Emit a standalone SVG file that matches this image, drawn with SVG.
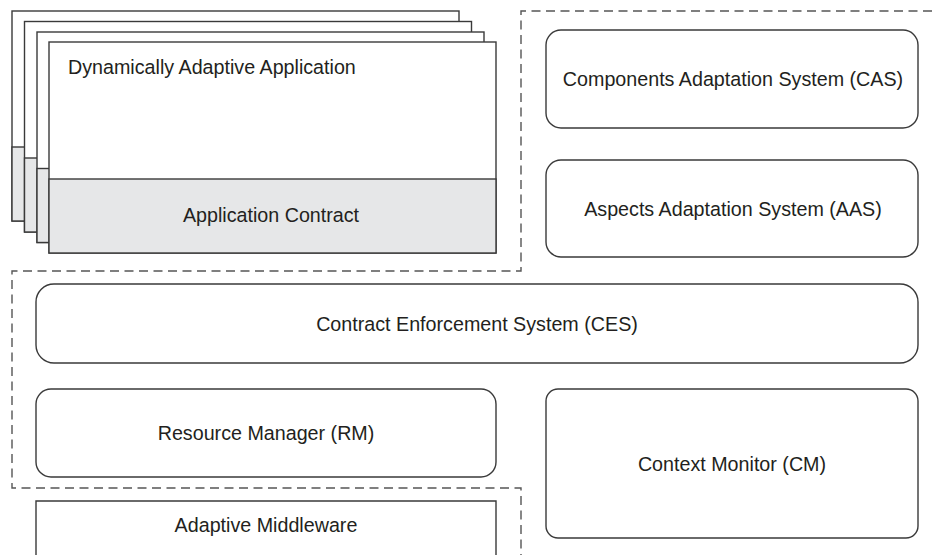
<svg xmlns="http://www.w3.org/2000/svg" width="932" height="555" viewBox="0 0 932 555">
<style>
  .box { fill: #ffffff; stroke: #3a3a3a; stroke-width: 1.4; }
  .gray { fill: #e6e7e8; stroke: #3a3a3a; stroke-width: 1.4; }
  .dash { fill: none; stroke: #555555; stroke-width: 1.4; stroke-dasharray: 9 5.5; }
  text { font-family: "Liberation Sans", Arial, sans-serif; font-size: 19.7px; fill: #231f20; }
  .c { text-anchor: middle; }
</style>
<rect width="932" height="555" fill="#ffffff"/>
<g id="app-stack">
  <g id="app-layer-1">
    <rect class="box" x="12" y="11" width="447" height="210"/>
    <rect class="gray" x="12" y="147" width="447" height="74"/>
  </g>
  <g id="app-layer-2">
    <rect class="box" x="24.5" y="21.5" width="447" height="210.5"/>
    <rect class="gray" x="24.5" y="158" width="447" height="74"/>
  </g>
  <g id="app-layer-3">
    <rect class="box" x="37" y="32" width="447" height="210.5"/>
    <rect class="gray" x="37" y="168.5" width="447" height="74"/>
  </g>
  <g id="app-front">
    <rect class="box" x="49" y="42" width="447" height="211"/>
    <rect class="gray" x="49" y="179" width="447" height="74"/>
    <text x="68" y="74">Dynamically Adaptive Application</text>
    <text class="c" x="271" y="222">Application Contract</text>
  </g>
</g>
<g id="connectors">
  <path class="dash" d="M932,11 H521 V271 H12 V488 H521 V555"/>
</g>
<g id="cas">
  <rect class="box" x="546" y="30" width="372" height="98" rx="15"/>
  <text class="c" x="733" y="86">Components Adaptation System (CAS)</text>
</g>
<g id="aas">
  <rect class="box" x="546" y="160" width="372" height="97" rx="15"/>
  <text class="c" x="733" y="216">Aspects Adaptation System (AAS)</text>
</g>
<g id="ces">
  <rect class="box" x="36" y="284" width="882" height="79" rx="18"/>
  <text class="c" x="477" y="331">Contract Enforcement System (CES)</text>
</g>
<g id="rm">
  <rect class="box" x="36" y="389" width="460" height="88" rx="15"/>
  <text class="c" x="266" y="440">Resource Manager (RM)</text>
</g>
<g id="cm">
  <rect class="box" x="546" y="389" width="372" height="149" rx="12"/>
  <text class="c" x="732" y="471">Context Monitor (CM)</text>
</g>
<g id="middleware">
  <path class="box" d="M36,556 V501 H496 V556"/>
  <text class="c" x="266" y="532">Adaptive Middleware</text>
</g>
</svg>
